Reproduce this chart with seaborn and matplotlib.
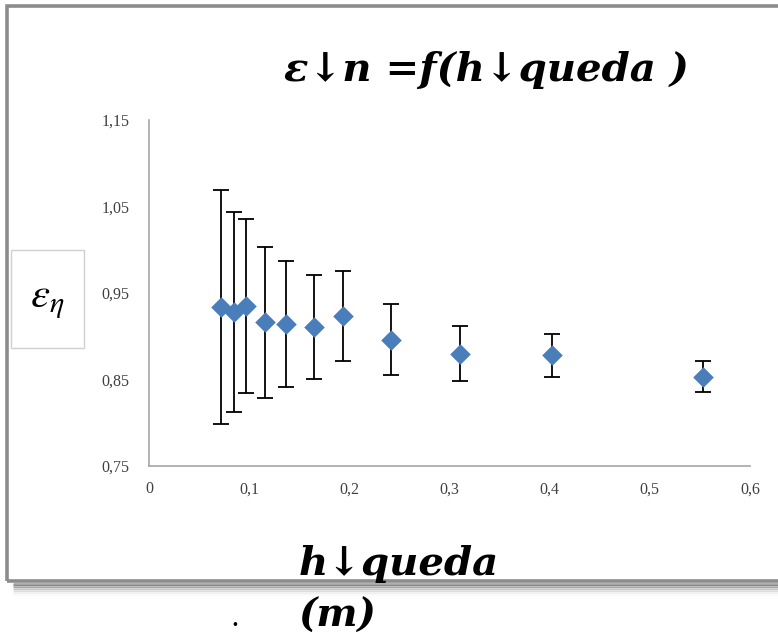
import numpy as np
import pandas as pd
import matplotlib
matplotlib.use("Agg")
import matplotlib.pyplot as plt
import seaborn as sns
from matplotlib.ticker import FuncFormatter
from matplotlib.patches import Rectangle
from matplotlib.lines import Line2D

# ---- data ----
h_queda = [0.0716, 0.085, 0.0966, 0.116, 0.137, 0.165, 0.1935, 0.2415, 0.310, 0.402, 0.553]
eps_n = [0.934, 0.928, 0.935, 0.916, 0.914, 0.911, 0.923, 0.896, 0.880, 0.878, 0.853]
eps_err = [0.135, 0.116, 0.101, 0.087, 0.073, 0.060, 0.052, 0.041, 0.032, 0.025, 0.018]
y_ticks = [0.75, 0.85, 0.95, 1.05, 1.15]
x_ticks = [0, 0.1, 0.2, 0.3, 0.4, 0.5, 0.6]

df = pd.DataFrame({"h": h_queda, "eps": eps_n, "err": eps_err})

sns.set_theme(style="white")
plt.rcParams["font.family"] = ["DejaVu Serif"]
plt.rcParams["mathtext.fontset"] = "stix"

W, H = 778, 636
fig = plt.figure(figsize=(W / 100, H / 100), dpi=100)
fig.patch.set_facecolor("white")

def fx(px):
    return px / W

def fy(py):
    return 1 - py / H

ax = fig.add_axes([fx(149), fy(466), fx(750) - fx(149), fy(120) - fy(466)])
ax.set_facecolor("white")

ax.errorbar(df["h"], df["eps"], yerr=df["err"], fmt="none", ecolor="black",
            elinewidth=1.3, capsize=5.5, capthick=1.3, zorder=2)
sns.scatterplot(data=df, x="h", y="eps", marker="D", s=110, color="#4a7ebb",
                edgecolor="#4a7ebb", linewidth=0, ax=ax, zorder=3)

ax.set_xlim(0, 0.6)
ax.set_ylim(0.75, 1.15)
ax.set_xticks(x_ticks)
ax.set_yticks(y_ticks)
ax.xaxis.set_major_formatter(FuncFormatter(lambda v, p: "0" if abs(v) < 1e-9 else f"{v:.1f}".replace(".", ",")))
ax.yaxis.set_major_formatter(FuncFormatter(lambda v, p: f"{v:.2f}".replace(".", ",")))
for lab in ax.get_xticklabels() + ax.get_yticklabels():
    lab.set_fontfamily("Liberation Serif")
    lab.set_fontsize(11.5)
    lab.set_color("#404040")
ax.tick_params(axis="both", length=0)
ax.tick_params(axis="y", pad=14)
ax.tick_params(axis="x", pad=11)
ax.set_xlabel("")
ax.set_ylabel("")
for s in ["top", "right"]:
    ax.spines[s].set_visible(False)
for s in ["left", "bottom"]:
    ax.spines[s].set_color("#a6a6a6")
    ax.spines[s].set_linewidth(1.2)
ax.grid(False)

# outer frame with shadow
for i, a in enumerate([0.35, 0.25, 0.17, 0.1, 0.05, 0.02]):
    yy = fy(584 + 2 * i)
    fig.add_artist(Line2D([fx(14), 1.0], [yy, yy], color="black", alpha=a, lw=2,
                          transform=fig.transFigure))
fig.add_artist(Rectangle((fx(7), fy(581)), 1.05, fy(6) - fy(581), transform=fig.transFigure,
                         fill=True, facecolor="none", edgecolor="#8c8c8c", linewidth=2.6, zorder=0))

# y label box
fig.add_artist(Rectangle((fx(11), fy(348)), fx(84) - fx(11), fy(250) - fy(348),
                         transform=fig.transFigure, fill=False, edgecolor="#d0d0d0", linewidth=1))
fig.text(fx(47), fy(300), r"$\varepsilon_{\eta}$", fontsize=31, ha="center", va="center",
         color="black")

# title
fig.text(fx(486), fy(70), "ε↓n =f(h↓queda )", fontsize=29, fontweight="bold",
         fontstyle="italic", family="DejaVu Serif", ha="center", va="center", color="black")

# x label
fig.text(fx(299), fy(564), "h↓queda", fontsize=29, fontweight="bold",
         fontstyle="italic", family="DejaVu Serif", ha="left", va="center", color="black")
fig.text(fx(299), fy(616), "(m)", fontsize=28, fontweight="bold",
         fontstyle="italic", family="DejaVu Serif", ha="left", va="center", color="black")
fig.text(fx(235), fy(618), ".", fontsize=20, ha="center", va="center", color="black")

fig.savefig("out.png", dpi=100, facecolor="white")
